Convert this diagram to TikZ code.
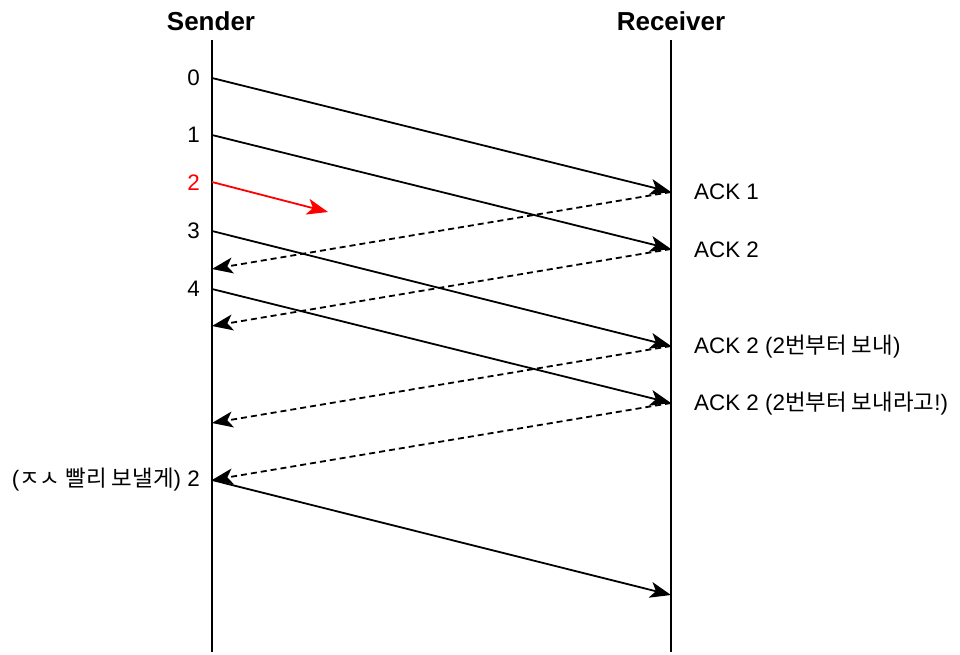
\documentclass[tikz,border=0pt]{standalone}
\usepackage{fontspec}
\setmainfont{Liberation Sans}
\newfontfamily\kr{Noto Sans CJK KR}
\usetikzlibrary{arrows.meta}
\tikzset{
  tipbig/.tip={Stealth[length=21pt,width=16pt,inset=5.5pt]},
  life/.style={line width=1.9pt},
  msg/.style={line width=1.8pt,-tipbig},
  ack/.style={msg,dash pattern=on 6pt off 4pt},
  lost/.style={msg,red},
  lbl/.style={font=\fontsize{22.4}{26}\selectfont,inner sep=0pt},
  ttl/.style={font=\fontsize{26}{31}\selectfont\bfseries,inner sep=0pt}}
\begin{document}
\begin{tikzpicture}[x=1pt,y=-1pt]
\useasboundingbox (0,0) rectangle (960,655);
% titles
\node[ttl] (tS) at (211,21) {Sender};
\node[ttl] (tR) at (671,21) {Receiver};
% lifelines
\coordinate (sTop) at (212,40);
\coordinate (sBot) at (212,652);
\coordinate (rTop) at (671,40);
\coordinate (rBot) at (671,652);
\draw[life] (sTop) -- (sBot);
\draw[life] (rTop) -- (rBot);
% sender points
\coordinate (s0) at (212,78);
\coordinate (s1) at (212,135);
\coordinate (s2) at (212,182);
\coordinate (s3) at (212,231);
\coordinate (s4) at (212,289);
\coordinate (a1) at (212,269);
\coordinate (a2) at (212,326);
\coordinate (a3) at (212,423);
\coordinate (s5) at (212,480);
% receiver points
\coordinate (r0) at (671,192);
\coordinate (r1) at (671,249);
\coordinate (r3) at (671,346);
\coordinate (r4) at (671,403);
\coordinate (r5) at (671,595);
\coordinate (lostEnd) at (328,212);
% messages
\draw[msg] (s0) -- (r0);
\draw[msg] (s1) -- (r1);
\draw[lost] (s2) -- (lostEnd);
\draw[msg] (s3) -- (r3);
\draw[msg] (s4) -- (r4);
\draw[ack] (r0) -- (a1);
\draw[ack] (r1) -- (a2);
\draw[ack] (r3) -- (a3);
\draw[ack] (r4) -- (s5);
\draw[msg] (s5) -- (r5);
% sender labels
\node[lbl,anchor=east] (l0) at (200,78) {0};
\node[lbl,anchor=east] (l1) at (200,135) {1};
\node[lbl,anchor=east,text=red] (l2) at (200,183) {2};
\node[lbl,anchor=east] (l3) at (200,231) {3};
\node[lbl,anchor=east] (l4) at (200,289) {4};
\node[lbl,anchor=east] (l5) at (200,480) {({\kr ㅈㅅ 빨리 보낼게}) 2};
% receiver labels
\node[lbl,anchor=west] (k1) at (694,192) {ACK 1};
\node[lbl,anchor=west] (k2) at (694,250) {ACK 2};
\node[lbl,anchor=west] (k3) at (694,347) {ACK 2 (2{\kr 번부터 보내})};
\node[lbl,anchor=west] (k4) at (694,404) {ACK 2 (2{\kr 번부터 보내라고}!)};
\end{tikzpicture}
\end{document}
